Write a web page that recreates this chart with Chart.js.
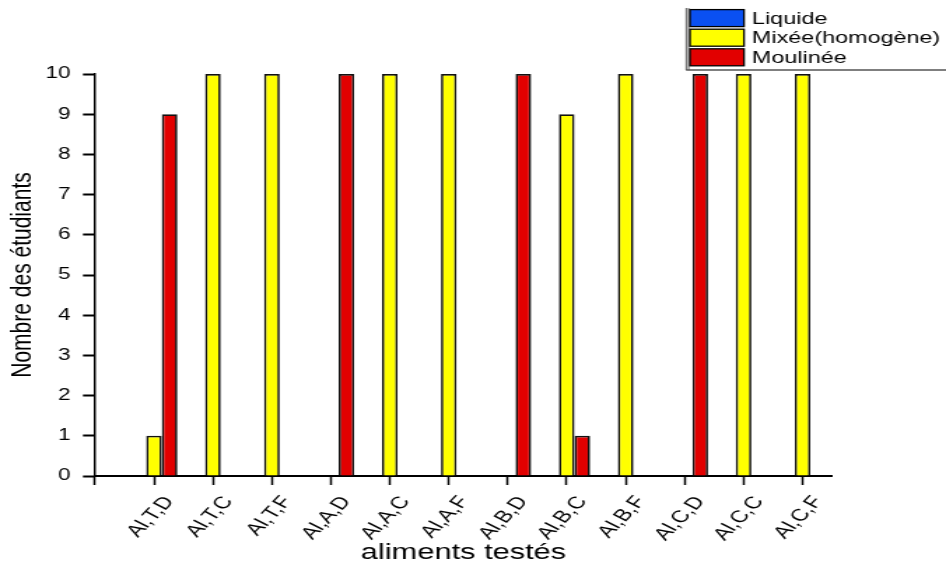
<!DOCTYPE html>
<html>
<head>
<meta charset="utf-8">
<title>Nombre des étudiants par aliment testé</title>
<script src="https://cdn.jsdelivr.net/npm/chart.js@4/dist/chart.umd.min.js"></script>
<style>
  html, body { margin: 0; padding: 0; background: #fff; }
</style>
</head>
<body>
<!-- the drawing surface is rendered narrow and widened on screen, giving the wide lettering -->
<canvas id="c" width="676" height="565" style="display:block;width:946px;height:565px"></canvas>
<script>
// ---- data ----
const categories = ['Al,T,D', 'Al,T,C', 'Al,T,F', 'Al,A,D', 'Al,A,C', 'Al,A,F',
                    'Al,B,D', 'Al,B,C', 'Al,B,F', 'Al,C,D', 'Al,C,C', 'Al,C,F'];
const seriesNames = ['Liquide', 'Mixée(homogène)', 'Moulinée'];
const liquide  = [0, 0, 0, 0, 0, 0, 0, 0, 0, 0, 0, 0];
const mixee    = [1, 10, 10, 0, 10, 10, 0, 9, 10, 0, 10, 10];
const moulinee = [9, 0, 0, 10, 0, 0, 10, 1, 0, 10, 0, 0];
const yTicks   = [0, 1, 2, 3, 4, 5, 6, 7, 8, 9, 10];
const xTitle = 'aliments testés';
const yTitle = 'Nombre des étudiants';

// ---- geometry (canvas units; the canvas is widened by SX on screen) ----
const SX = 946 / 676;
const AREA = { left: 95 / SX, right: 832 / SX, top: 74, bottom: 476 };
const colors = ['#0A50F2', '#FFFF00', '#E20000'];

const toPoints = arr => arr.map((v, i) => ({ x: i + 1, y: v }));
const values = [liquide, mixee, moulinee];

Chart.defaults.font.family = '"Liberation Sans", Arial, sans-serif';
Chart.defaults.color = '#000';

// legend box drawn in the upper right corner
const cornerLegend = {
  id: 'cornerLegend',
  afterDraw(chart) {
    const ctx = chart.ctx;
    ctx.save();
    // frame
    ctx.strokeStyle = '#333';
    ctx.lineWidth = 0.8;
    ctx.beginPath();
    ctx.moveTo(686.2 / SX, 8); ctx.lineTo(686.2 / SX, 70);
    ctx.moveTo(688.6 / SX, 8); ctx.lineTo(688.6 / SX, 70);
    ctx.stroke();
    ctx.strokeStyle = '#555';
    ctx.lineWidth = 1.6;
    ctx.beginPath();
    ctx.moveTo(686 / SX, 70); ctx.lineTo(chart.width, 70);
    ctx.stroke();
    // entries
    const sx = 690 / SX, sw = 54 / SX, sh = 17, pitch = 19.6, y0 = 9.6;
    ctx.font = '16.7px "Liberation Sans", Arial, sans-serif';
    ctx.textBaseline = 'middle';
    ctx.textAlign = 'left';
    chart.data.datasets.forEach((ds, i) => {
      const y = y0 + i * pitch;
      ctx.fillStyle = ds.backgroundColor;
      ctx.fillRect(sx, y, sw, sh);
      ctx.strokeStyle = '#000';
      ctx.lineWidth = 1.3;
      ctx.strokeRect(sx, y, sw, sh);
      ctx.fillStyle = '#000';
      ctx.fillText(ds.label, 752 / SX, y + sh / 2 + 1);
    });
    ctx.restore();
  }
};

new Chart(document.getElementById('c'), {
  type: 'bar',
  data: {
    datasets: seriesNames.map((name, i) => ({
      label: name,
      data: toPoints(values[i]),
      backgroundColor: colors[i],
      borderColor: '#111',
      borderWidth: 1.7,
      categoryPercentage: 0.795,
      barPercentage: 1.0
    }))
  },
  options: {
    responsive: false,
    devicePixelRatio: 1,
    animation: false,
    layout: { padding: { left: 0, right: 676 - AREA.right, top: AREA.top, bottom: 0 } },
    plugins: { legend: { display: false }, tooltip: { enabled: false } },
    scales: {
      x: {
        type: 'linear',
        min: 0,
        max: 12.5,
        offset: false,
        afterFit(scale) { scale.height = 565 - AREA.bottom; },
        afterBuildTicks(scale) {
          scale.ticks = [{ value: 0 }].concat(categories.map((c, i) => ({ value: i + 1 })));
        },
        ticks: {
          autoSkip: false,
          includeBounds: false,
          stepSize: 1,
          minRotation: 54.5,
          maxRotation: 54.5,
          padding: 7.5,
          labelOffset: 11,
          font: { size: 17 },
          callback: v => (v >= 1 && v <= categories.length ? categories[v - 1] : '')
        },
        grid: {
          display: true,
          offset: false,
          drawOnChartArea: false,
          drawTicks: true,
          tickLength: 9,
          tickWidth: 1.5,
          tickColor: '#000'
        },
        border: { display: true, color: '#000', width: 2 },
        title: {
          display: true,
          text: xTitle,
          font: { size: 22 },
          padding: { top: 0, bottom: -1.5 }
        }
      },
      y: {
        min: 0,
        max: 10,
        afterFit(scale) { scale.width = AREA.left; },
        afterBuildTicks(scale) { scale.ticks = yTicks.map(v => ({ value: v })); },
        ticks: { padding: 9, font: { size: 16 } },
        grid: {
          display: true,
          drawOnChartArea: false,
          drawTicks: true,
          tickLength: 8.6,
          tickWidth: 2,
          tickColor: '#000'
        },
        border: { display: true, color: '#000', width: 1.45 },
        title: {
          display: true,
          text: yTitle,
          font: { size: 21 },
          padding: { top: 3.8, bottom: 0 }
        }
      }
    }
  },
  plugins: [cornerLegend]
});
</script>
</body>
</html>
